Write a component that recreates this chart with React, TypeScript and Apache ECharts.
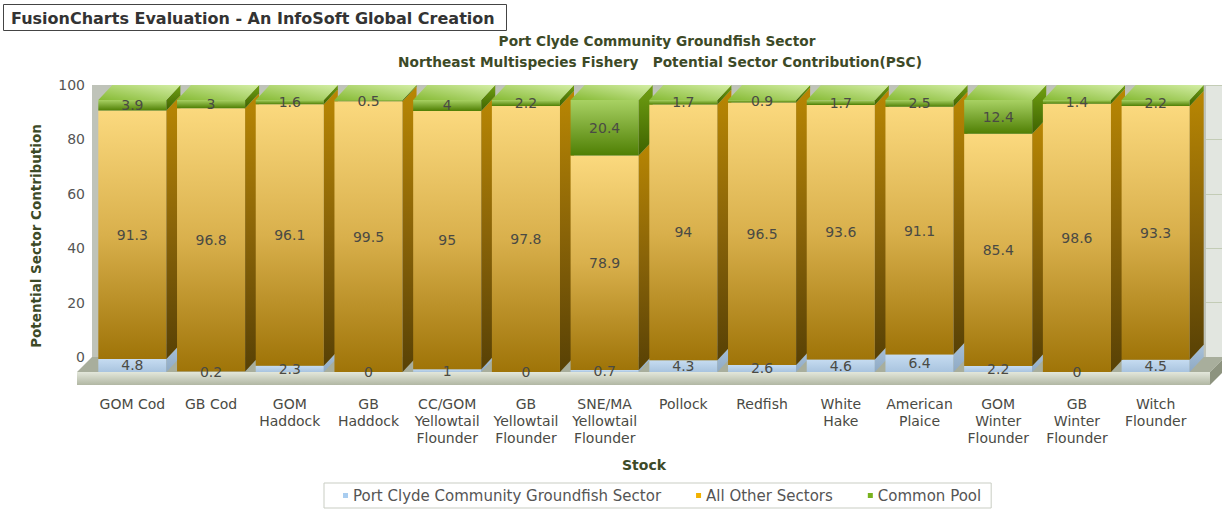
import React, { useEffect, useRef } from "react";
import * as echarts from "echarts";

const categories = [
  "GOM Cod",
  "GB Cod",
  "GOM\nHaddock",
  "GB\nHaddock",
  "CC/GOM\nYellowtail\nFlounder",
  "GB\nYellowtail\nFlounder",
  "SNE/MA\nYellowtail\nFlounder",
  "Pollock",
  "Redfish",
  "White\nHake",
  "American\nPlaice",
  "GOM\nWinter\nFlounder",
  "GB\nWinter\nFlounder",
  "Witch\nFlounder",
];
const seriesNames = ["Port Clyde Community Groundfish Sector", "All Other Sectors", "Common Pool"];
const portClyde = [4.8, 0.2, 2.3, 0, 1, 0, 0.7, 4.3, 2.6, 4.6, 6.4, 2.2, 0, 4.5];
const allOther = [91.3, 96.8, 96.1, 99.5, 95, 97.8, 78.9, 94, 96.5, 93.6, 91.1, 85.4, 98.6, 93.3];
const commonPool = [3.9, 3, 1.6, 0.5, 4, 2.2, 20.4, 1.7, 0.9, 1.7, 2.5, 12.4, 1.4, 2.2];
const yMin = 0;
const yMax = 100;
const yInterval = 20;

const FONT = '"DejaVu Sans", Verdana, sans-serif';
const DX = 14;
const DY = 15;

const lg = (x0: number, y0: number, x1: number, y1: number, c0: string, c1: string, cm?: string) =>
  new echarts.graphic.LinearGradient(
    x0,
    y0,
    x1,
    y1,
    cm
      ? [
          { offset: 0, color: c0 },
          { offset: 0.5, color: cm },
          { offset: 1, color: c1 },
        ]
      : [
          { offset: 0, color: c0 },
          { offset: 1, color: c1 },
        ]
  );

export default function App() {
  const ref = useRef<HTMLDivElement>(null);

  useEffect(() => {
    if (!ref.current) return;
    const chart = echarts.init(ref.current, undefined, { renderer: "svg" });

    const FRONT = [
      lg(0, 0, 0, 1, "#c6dcf1", "#a9c4df"),
      lg(0, 0, 0, 1, "#fbd97e", "#9f7408", "#d9b04c"),
      lg(0, 0, 0, 1, "#a8d163", "#4f7f04"),
    ];
    const SIDE = [
      lg(0, 0, 0, 1, "#a9c2da", "#8ea9c4"),
      lg(0, 0, 0, 1, "#b98703", "#584105", "#8a6408"),
      lg(0, 0, 0, 1, "#70a012", "#3e6200"),
    ];
    const TOP = lg(0, 1, 1, 0, "#86ba34", "#d4eea6");

    const renderBar = (params: any, api: any) => {
      const i = api.value(0);
      const vals = [api.value(1), api.value(2), api.value(3)];
      const slot = api.size([1, 0])[0];
      const w = slot * 0.865;
      const faces: any[] = [];
      const labels: any[] = [];
      let base = 0;
      vals.forEach((v: number, k: number) => {
        const top = base + v;
        const pb = api.coord([i, base]);
        const pt = api.coord([i, top]);
        const x = pb[0] - w / 2;
        const yb = pb[1];
        const yt = pt[1];
        faces.push({
          type: "rect",
          shape: { x, y: yt, width: w, height: yb - yt },
          style: { fill: FRONT[k] },
        });
        faces.push({
          type: "polygon",
          shape: {
            points: [
              [x + w, yt],
              [x + w + DX, yt - DY],
              [x + w + DX, yb - DY],
              [x + w, yb],
            ],
          },
          style: { fill: SIDE[k] },
        });
        if (k === 2) {
          faces.push({
            type: "polygon",
            shape: {
              points: [
                [x, yt],
                [x + DX, yt - DY],
                [x + w + DX, yt - DY],
                [x + w, yt],
              ],
            },
            style: { fill: TOP },
          });
        }
        labels.push({
          type: "text",
          x: x + w / 2,
          y: (yt + yb) / 2,
          style: {
            text: String(v),
            fill: "#4a4a44",
            font: `14px ${FONT}`,
            align: "center",
            verticalAlign: "middle",
            textAlign: "center",
            textVerticalAlign: "middle",
          },
        });
        base = top;
      });
      return { type: "group", children: faces.concat(labels) };
    };

    const subStyle = { fontFamily: FONT, fontSize: 13.7, fontWeight: "bold", color: "#3d4a27" };

    const option: any = {
      animation: false,
      textStyle: { fontFamily: FONT },
      title: [
        {
          text: "Port Clyde Community Groundfish Sector",
          left: 652,
          top: 29,
          textAlign: "center",
          textStyle: subStyle,
        },
        {
          text: "Northeast Multispecies Fishery   Potential Sector Contribution(PSC)",
          left: 655,
          top: 50,
          textAlign: "center",
          textStyle: subStyle,
        },
      ],
      legend: {
        data: seriesNames,
        left: 324,
        top: 483,
        icon: "rect",
        itemWidth: 5,
        itemHeight: 5,
        itemGap: 35,
        padding: [5, 10, 5, 19],
        borderColor: "#c9cdc3",
        borderWidth: 1,
        backgroundColor: "#ffffff",
        textStyle: { fontFamily: FONT, fontSize: 15, color: "#555555" },
      },
      graphic: [
        {
          type: "rect",
          z: 1,
          shape: { x: 92, y: 85, width: 1114, height: 272 },
          style: { fill: "#bfc3b9" },
        },
        {
          type: "polygon",
          z: 1,
          shape: {
            points: [
              [92, 357],
              [1225, 357],
              [1210, 372],
              [77, 372],
            ],
          },
          style: { fill: "#a8ae9c" },
        },
        {
          type: "rect",
          z: 1,
          shape: { x: 77, y: 372, width: 1133, height: 13 },
          style: { fill: lg(0, 0, 0, 1, "#e3e7db", "#b1b7a3") },
        },
        {
          type: "polygon",
          z: 1,
          shape: {
            points: [
              [1210, 372],
              [1225, 357],
              [1225, 370],
              [1210, 385],
            ],
          },
          style: { fill: "#8d937f" },
        },
        {
          type: "group",
          children: [
            {
              type: "rect",
              shape: { x: 3.5, y: 4.5, width: 503, height: 26 },
              style: { fill: "#ffffff", stroke: "#444444", lineWidth: 1 },
            },
            {
              type: "text",
              x: 11,
              y: 18,
              style: {
                text: "FusionCharts Evaluation - An InfoSoft Global Creation",
                font: `bold 16px ${FONT}`,
                fill: "#333333",
                verticalAlign: "middle",
                textVerticalAlign: "middle",
              },
            },
          ],
        },
      ],
      grid: [
        {
          left: 92,
          top: 85,
          width: 1130,
          height: 272,
          show: true,
          backgroundColor: "#e2e6e0",
          borderWidth: 0,
        },
        {
          left: 93,
          top: 100,
          width: 1102,
          height: 272,
        },
      ],
      xAxis: [
        { type: "value", gridIndex: 0, show: false, min: 0, max: 1 },
        {
          type: "category",
          gridIndex: 1,
          data: categories,
          axisLine: { show: false },
          axisTick: { show: false },
          axisLabel: {
            interval: 0,
            margin: 23,
            lineHeight: 17,
            fontSize: 14,
            fontFamily: FONT,
            color: "#4a4a44",
          },
          name: "Stock",
          nameLocation: "middle",
          nameGap: 86,
          nameTextStyle: { fontFamily: FONT, fontSize: 14, fontWeight: "bold", color: "#3d4a27" },
        },
      ],
      yAxis: [
        {
          type: "value",
          gridIndex: 0,
          min: yMin,
          max: yMax,
          interval: yInterval,
          axisLine: { show: false },
          axisTick: { show: false },
          axisLabel: { margin: 7, fontSize: 14, fontFamily: FONT, color: "#555555" },
          splitLine: { lineStyle: { color: "#c3ccb6" } },
        },
        {
          type: "value",
          gridIndex: 1,
          min: yMin,
          max: yMax,
          axisLine: { show: false },
          axisTick: { show: false },
          axisLabel: { show: false },
          splitLine: { show: false },
          name: "Potential Sector Contribution",
          nameLocation: "middle",
          nameGap: 50,
          nameTextStyle: { fontFamily: FONT, fontSize: 13.5, fontWeight: "bold", color: "#3d4a27" },
        },
      ],
      series: [
        {
          type: "custom",
          name: "bars",
          xAxisIndex: 1,
          yAxisIndex: 1,
          z: 3,
          clip: false,
          renderItem: renderBar,
          encode: { x: 0, y: [1, 2, 3] },
          data: categories.map((_, i) => [i, portClyde[i], allOther[i], commonPool[i]]),
        },
        { type: "bar", name: seriesNames[0], xAxisIndex: 1, yAxisIndex: 1, data: [], itemStyle: { color: "#a9cdf0" } },
        { type: "bar", name: seriesNames[1], xAxisIndex: 1, yAxisIndex: 1, data: [], itemStyle: { color: "#f2b200" } },
        { type: "bar", name: seriesNames[2], xAxisIndex: 1, yAxisIndex: 1, data: [], itemStyle: { color: "#78b21e" } },
      ],
    };

    chart.setOption(option);
    return () => chart.dispose();
  }, []);

  return (
    <div
      ref={ref}
      style={{ position: "fixed", left: 0, top: 0, width: 1222, height: 512, background: "#ffffff" }}
    />
  );
}
